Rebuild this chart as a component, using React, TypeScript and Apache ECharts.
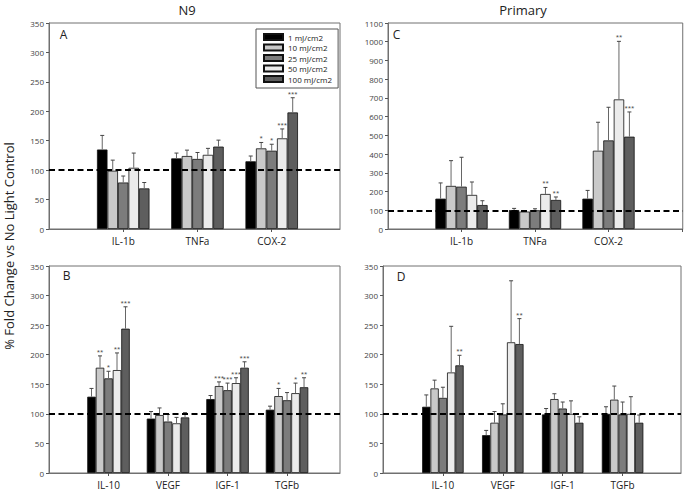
import React, { useEffect, useRef } from "react";
import * as echarts from "echarts";

// ---------- data ----------
const doses = ["1 mJ/cm2", "10 mJ/cm2", "25 mJ/cm2", "50 mJ/cm2", "100 mJ/cm2"];
const doseColors = ["#000000", "#c9c9c9", "#7c7c7c", "#ebebeb", "#5e5e5e"];

const catsTop = ["IL-1b", "TNFa", "COX-2"];
const catsBottom = ["IL-10", "VEGF", "IGF-1", "TGFb"];

// Panel A (N9, top) : rows = doses, cols = catsTop
const n9TopMean = [
  [135, 120, 115],
  [99, 124, 137],
  [79, 119, 133],
  [104, 126, 154],
  [69, 140, 198],
];
const n9TopSd = [
  [24, 9, 9],
  [18, 10, 10],
  [11, 11, 11],
  [25, 11, 16],
  [10, 11, 25],
];
const n9TopSig = [
  ["", "", ""],
  ["", "", "*"],
  ["", "", "*"],
  ["", "", "***"],
  ["", "", "***"],
];

// Panel C (Primary, top)
const priTopMean = [
  [162, 101, 162],
  [230, 93, 418],
  [226, 100, 473],
  [182, 187, 692],
  [128, 155, 493],
];
const priTopSd = [
  [84, 9, 44],
  [135, 3, 152],
  [157, 8, 177],
  [69, 35, 310],
  [23, 16, 132],
];
const priTopSig = [
  ["", "", ""],
  ["", "", ""],
  ["", "", ""],
  ["", "**", "**"],
  ["", "**", "***"],
];

// Panel B (N9, bottom)
const n9BotMean = [
  [129, 92, 125, 107],
  [178, 98, 147, 130],
  [160, 87, 140, 123],
  [174, 84, 152, 135],
  [244, 94, 178, 145],
];
const n9BotSd = [
  [14, 12, 6, 6],
  [20, 12, 7, 13],
  [12, 12, 12, 13],
  [29, 10, 9, 17],
  [37, 8, 10, 16],
];
const n9BotSig = [
  ["", "", "", ""],
  ["**", "", "***", "*"],
  ["*", "", "***", ""],
  ["**", "", "***", "*"],
  ["***", "", "***", "**"],
];

// Panel D (Primary, bottom)
const priBotMean = [
  [112, 64, 99, 100],
  [143, 85, 125, 124],
  [127, 99, 109, 99],
  [170, 221, 100, 100],
  [182, 218, 85, 85],
];
const priBotSd = [
  [20, 8, 10, 12],
  [14, 19, 9, 23],
  [18, 18, 11, 21],
  [78, 104, 22, 29],
  [17, 43, 10, 13],
];
const priBotSig = [
  ["", "", "", ""],
  ["", "", "", ""],
  ["", "", "", ""],
  ["", "", "", ""],
  ["**", "**", "", ""],
];

const FONT = "'Open Sans', 'Noto Sans', sans-serif";

type Panel = {
  cats: string[];
  mean: number[][];
  sd: number[][];
  sig: string[][];
  grid: { left: number; top: number; width: number; height: number };
  xMax: number;
  yMax: number;
  yInterval: number;
  barW: number;
};

const panels: Panel[] = [
  { cats: catsTop, mean: n9TopMean, sd: n9TopSd, sig: n9TopSig, grid: { left: 49, top: 23, width: 291, height: 206 }, xMax: 3.92, yMax: 350, yInterval: 50, barW: 10.5 },
  { cats: catsTop, mean: priTopMean, sd: priTopSd, sig: priTopSig, grid: { left: 388, top: 23, width: 295, height: 206 }, xMax: 4.01, yMax: 1100, yInterval: 100, barW: 10.45 },
  { cats: catsBottom, mean: n9BotMean, sd: n9BotSd, sig: n9BotSig, grid: { left: 49, top: 266, width: 291, height: 207 }, xMax: 4.89, yMax: 350, yInterval: 50, barW: 8.5 },
  { cats: catsBottom, mean: priBotMean, sd: priBotSd, sig: priBotSig, grid: { left: 383, top: 266, width: 298, height: 207 }, xMax: 4.975, yMax: 350, yInterval: 50, barW: 8.3 },
];

function buildOption() {
  const grid: any[] = [];
  const xAxis: any[] = [];
  const yAxis: any[] = [];
  const series: any[] = [];

  panels.forEach((p, g) => {
    grid.push({ ...p.grid, show: true, borderColor: "#707070", borderWidth: 1, backgroundColor: "transparent" });
    xAxis.push({
      type: "value",
      gridIndex: g,
      min: 0,
      max: p.xMax,
      interval: 1,
      splitLine: { show: false },
      axisLine: { show: true, lineStyle: { color: "#707070", width: 1 } },
      axisTick: { show: true, length: 3, lineStyle: { color: "#555" } },
      axisLabel: {
        fontFamily: FONT,
        fontSize: 10,
        color: "#222",
        margin: 7,
        showMinLabel: false,
        showMaxLabel: false,
        formatter: (v: number) => (Number.isInteger(v) && p.cats[v - 1] ? p.cats[v - 1] : ""),
      },
    });
    yAxis.push({
      type: "value",
      gridIndex: g,
      min: 0,
      max: p.yMax,
      interval: p.yInterval,
      splitLine: { show: false },
      axisLine: { show: true, lineStyle: { color: "#707070", width: 1 } },
      axisTick: { show: true, length: 3, lineStyle: { color: "#555" } },
      axisLabel: { fontFamily: FONT, fontSize: 8, color: "#444", margin: 5, formatter: (v: number) => String(v) },
    });

    p.mean.forEach((row, s) => {
      const bar: any = {
        type: "bar",
        name: doses[s],
        xAxisIndex: g,
        yAxisIndex: g,
        barWidth: p.barW,
        barGap: "0%",
        data: row.map((v, c) => [c + 1, v]),
        itemStyle: { color: doseColors[s], borderColor: "#111", borderWidth: 0.8 },
        z: 2,
      };
      if (s === 0) {
        bar.markLine = {
          silent: true,
          symbol: ["none", "none"],
          label: { show: false },
          lineStyle: { color: "#000", width: 2, type: [6, 3.5] },
          data: [{ yAxis: 100 }],
          z: 5,
        };
      }
      series.push(bar);
    });

    const errData: number[][] = [];
    const sigFlat: string[] = [];
    p.mean.forEach((row, s) => {
      row.forEach((v, c) => {
        errData.push([c + 1, v, p.sd[s][c], s]);
        sigFlat.push(p.sig[s][c]);
      });
    });
    const bw = p.barW;
    series.push({
      type: "custom",
      xAxisIndex: g,
      yAxisIndex: g,
      data: errData,
      z: 4,
      silent: true,
      renderItem: (params: any, api: any) => {
        const x = api.value(0);
        const m = api.value(1);
        const sd = api.value(2);
        const s = api.value(3);
        const base = api.coord([x, m]);
        const top = api.coord([x, m + sd]);
        const px = base[0] + (s - 2) * bw;
        const children: any[] = [
          { type: "line", shape: { x1: px, y1: base[1], x2: px, y2: top[1] }, style: { stroke: "#666", lineWidth: 1 } },
          { type: "line", shape: { x1: px - 2, y1: top[1], x2: px + 2, y2: top[1] }, style: { stroke: "#444", lineWidth: 1 } },
        ];
        const star = sigFlat[params.dataIndex];
        if (star) {
          children.push({
            type: "text",
            x: px,
            y: top[1] - 1,
            style: { text: star, fontSize: 6, fontFamily: FONT, fill: "#333", align: "center", verticalAlign: "bottom" },
          });
        }
        return { type: "group", children };
      },
    });
  });

  const txt = (text: string, x: number, y: number, size: number, extra: any = {}) => ({
    type: "text",
    x,
    y,
    ...extra,
    style: { text, fontSize: size, fontFamily: FONT, fill: "#222", align: "center", verticalAlign: "middle" },
    z: 10,
  });

  return {
    animation: false,
    backgroundColor: "#ffffff",
    grid,
    xAxis,
    yAxis,
    series,
    legend: {
      data: doses,
      orient: "vertical",
      left: 256,
      top: 29,
      icon: "rect",
      itemWidth: 19,
      itemHeight: 6,
      itemGap: 0.5,
      padding: [3, 6, 4, 7],
      borderColor: "#555",
      borderWidth: 1,
      backgroundColor: "#ffffff",
      selectedMode: false,
      textStyle: { fontFamily: FONT, fontSize: 8, color: "#222", lineHeight: 10 },
      z: 6,
    },
    graphic: [
      txt("N9", 187, 10, 13),
      txt("Primary", 523, 10, 13),
      txt("A", 63.5, 34.5, 12),
      txt("C", 396.5, 34.5, 12),
      txt("B", 66.5, 275.5, 12),
      txt("D", 401, 276.5, 12),
      txt("% Fold Change vs No Light Control", 9, 246, 13, { rotation: Math.PI / 2 }),
    ],
  };
}

export default function App() {
  const ref = useRef<HTMLDivElement>(null);
  useEffect(() => {
    document.body.style.margin = "0";
    if (!ref.current) return;
    const chart = echarts.init(ref.current, undefined, { renderer: "svg" });
    chart.setOption(buildOption() as any);
    return () => chart.dispose();
  }, []);
  return <div ref={ref} style={{ width: 685, height: 494 }} />;
}
